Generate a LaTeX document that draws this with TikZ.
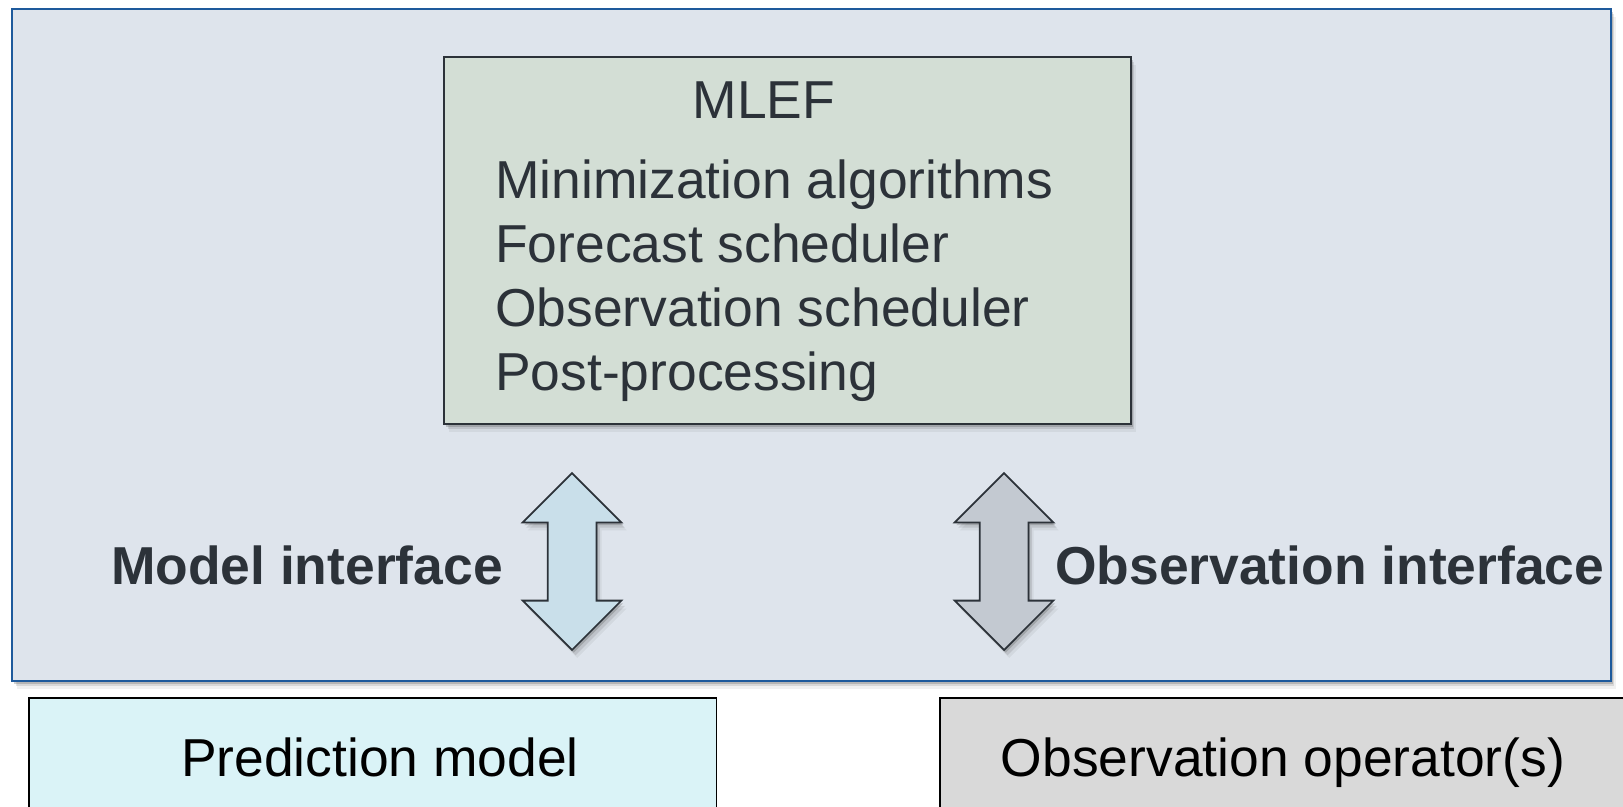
\documentclass[tikz,border=0pt]{standalone}
\usepackage{fontspec}
\setmainfont{Liberation Sans}
\usetikzlibrary{positioning, shapes.arrows, shadows}

\definecolor{frameblue}{HTML}{1E5A9C}
\definecolor{framefill}{HTML}{DEE4EC}
\definecolor{mlefill}{HTML}{D3DED5}
\definecolor{darktext}{HTML}{2C3239}
\definecolor{modelarrow}{HTML}{C9DFEA}
\definecolor{obsarrow}{HTML}{C3C9D1}
\definecolor{modelfill}{HTML}{DAF3F7}
\definecolor{obsfill}{HTML}{D9D9D9}

\begin{document}
\begin{tikzpicture}[x=0.02cm, y=-0.02cm,
    every node/.style={font=\fontsize{30.4}{36}\selectfont, text=darktext},
    panel/.style={draw, rectangle, inner sep=0pt},
    lift/.style={drop shadow={shadow xshift=1pt, shadow yshift=-1.5pt, opacity=0.25, fill=black!70},
                 drop shadow={shadow xshift=2pt, shadow yshift=-3pt, opacity=0.15, fill=black!70},
                 drop shadow={shadow xshift=3pt, shadow yshift=-4.5pt, opacity=0.08, fill=black!70}},
    link/.style={double arrow, rotate=90, draw=darktext, line width=1pt, inner xsep=0pt, inner ysep=0.47cm,
                 minimum height=3.54cm, minimum width=1.94cm, double arrow head extend=0.5cm},
    label/.style={font=\fontsize{30.4}{36}\selectfont\bfseries}]
\useasboundingbox (0,0) rectangle (1623,806);
\clip (0,0) rectangle (1623,806);

\node[panel, lift, draw=frameblue, fill=framefill, line width=1.2pt, minimum width=31.98cm, minimum height=13.44cm] (frame) at (811.5,345) {};

\node[panel, draw=black, fill=modelfill, line width=0.9pt, anchor=north west, minimum width=13.76cm, minimum height=3cm] (model) at (28,697) {};
\node[panel, draw=black, fill=obsfill, line width=0.9pt, anchor=north west, minimum width=16cm, minimum height=3cm] (obs) at (939,697) {};
\node[anchor=base, text=black] (modeltext) at (380,776) {Prediction model};
\node[anchor=base, text=black] (obstext) at (1283,776) {Observation operator(s)};

\node[panel, lift, draw=darktext, fill=mlefill, line width=1.2pt, minimum width=13.74cm, minimum height=7.34cm] (mlef) at (787.5,240.5) {};
\node[anchor=base] (title) at (764,118) {MLEF};
\foreach \t [count=\i] in {Minimization algorithms, Forecast scheduler, Observation scheduler, Post-processing}
  \node[anchor=base west] (task\i) at (489,{134+64*\i}) {\t};

\node[link, lift, fill=modelarrow] (modellink) at (572,561.5) {};
\node[link, lift, fill=obsarrow] (obslink) at (1004,561.5) {};
\node[label, anchor=base east] (modellabel) at (509,584) {Model interface};
\node[label, anchor=base west] (obslabel) at (1049,584) {Observation interface};
\end{tikzpicture}
\end{document}
